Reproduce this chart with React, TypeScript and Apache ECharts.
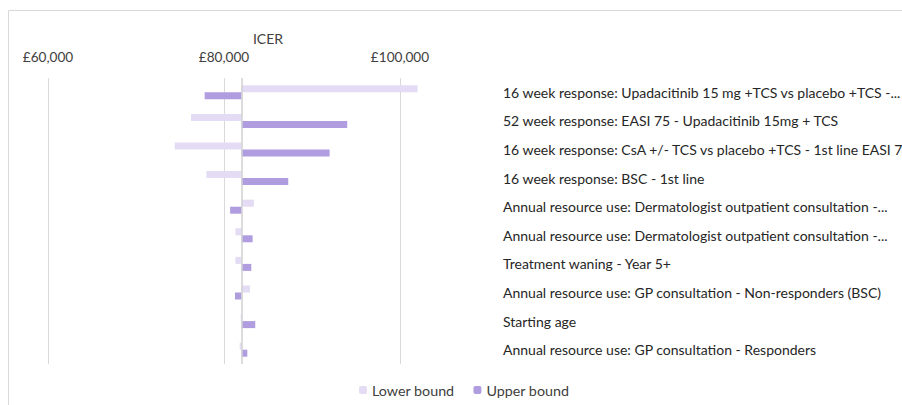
import React, { useEffect, useRef } from "react";
import * as echarts from "echarts";

const categories = [
  "16 week response: Upadacitinib 15 mg +TCS vs placebo +TCS -...",
  "52 week response: EASI 75 - Upadacitinib 15mg + TCS",
  "16 week response: CsA +/- TCS vs placebo +TCS - 1st line EASI 75",
  "16 week response: BSC - 1st line",
  "Annual resource use: Dermatologist outpatient consultation -...",
  "Annual resource use: Dermatologist outpatient consultation -...",
  "Treatment waning - Year 5+",
  "Annual resource use: GP consultation - Non-responders (BSC)",
  "Starting age",
  "Annual resource use: GP consultation - Responders",
];

const BASE_ICER = 82000;
const lowerBound = [102000, 76250, 74400, 78000, 83400, 81300, 81300, 82950, 81900, 81780];
const upperBound = [77800, 94000, 92000, 87300, 80700, 83250, 83100, 81250, 83550, 82650];

const X_MIN = 60000;
const X_MAX = 100000;
const X_STEP = 20000;

const FONT = "Lato";

export default function App() {
  const ref = useRef<HTMLDivElement>(null);
  useEffect(() => {
    if (!ref.current) return;
    const chart = echarts.init(ref.current, undefined, { renderer: "svg" });
    const lowStart = lowerBound.map((v) => Math.min(v, BASE_ICER));
    const lowLen = lowerBound.map((v) => Math.abs(v - BASE_ICER));
    const upStart = upperBound.map((v) => Math.min(v, BASE_ICER));
    const upLen = upperBound.map((v) => Math.abs(v - BASE_ICER));
    const invisible = { color: "rgba(0,0,0,0)" };
    chart.setOption({
      animation: false,
      textStyle: { fontFamily: FONT },
      graphic: [
        {
          type: "rect",
          shape: { x: 8.5, y: 10.5, width: 1000, height: 1000 },
          style: { fill: "none", stroke: "#d9d9d9", lineWidth: 1 },
          silent: true,
        },
        {
          type: "text",
          x: 268,
          y: 38,
          style: {
            text: "ICER",
            fontFamily: FONT,
            fontSize: 14,
            fill: "#404040",
            align: "center",
            verticalAlign: "middle",
          },
        },
      ],
      legend: {
        data: ["Lower bound", "Upper bound"],
        left: 354,
        top: 378,
        itemWidth: 8,
        itemHeight: 8,
        itemGap: 19,
        textStyle: { fontFamily: FONT, fontSize: 14.3, color: "#404040" },
      },
      grid: {
        left: 48,
        right: 502,
        top: 78,
        height: 286,
        containLabel: false,
        outerBoundsMode: "none",
      },
      xAxis: {
        type: "value",
        position: "top",
        min: X_MIN,
        max: X_MAX,
        interval: X_STEP,
        axisLine: { show: false },
        axisTick: { show: false },
        axisLabel: {
          margin: 14,
          fontFamily: FONT,
          fontSize: 13.6,
          color: "#404040",
          formatter: (v: number) => "£" + v.toLocaleString("en-GB"),
        },
        splitLine: { lineStyle: { color: "#d9d9d9", width: 1 } },
      },
      yAxis: {
        type: "category",
        data: categories,
        inverse: true,
        position: "right",
        axisLine: { show: false },
        axisTick: { show: false },
        axisLabel: {
          margin: 103,
          fontFamily: FONT,
          fontSize: 14,
          color: "#262626",
          align: "left",
        },
      },
      series: [
        {
          name: "lowBase",
          type: "bar",
          stack: "L",
          data: lowStart,
          itemStyle: invisible,
          barWidth: 7,
          barGap: "0%",
          clip: false,
          silent: true,
        },
        {
          name: "Lower bound",
          type: "bar",
          stack: "L",
          data: lowLen,
          itemStyle: { color: "#e3dcf4" },
          barWidth: 7,
          barGap: "0%",
          clip: false,
          markLine: {
            silent: true,
            symbol: "none",
            label: { show: false },
            lineStyle: { color: "#d0d0d0", type: "solid", width: 1.5 },
            data: [{ xAxis: BASE_ICER }],
          },
        },
        {
          name: "upBase",
          type: "bar",
          stack: "U",
          data: upStart,
          itemStyle: invisible,
          barWidth: 7,
          barGap: "0%",
          clip: false,
          silent: true,
        },
        {
          name: "Upper bound",
          type: "bar",
          stack: "U",
          data: upLen,
          itemStyle: { color: "#b09ddf" },
          barWidth: 7,
          barGap: "0%",
          clip: false,
        },
      ],
    });
    return () => chart.dispose();
  }, []);
  return (
    <div style={{ position: "absolute", left: 0, top: 0, width: 902, height: 405 }}>
      <div ref={ref} style={{ width: 902, height: 405 }} />
    </div>
  );
}
